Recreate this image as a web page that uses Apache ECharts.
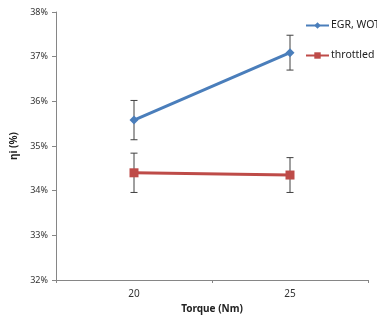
<!DOCTYPE html>
<html><head><meta charset="utf-8">
<script src="https://cdn.jsdelivr.net/npm/echarts@6/dist/echarts.min.js"></script>
<style>html,body{margin:0;padding:0;background:#fff}#c{width:377px;height:325px}</style>
</head><body><div id="c"></div>
<script>
const categories = ['20', '25'];
const egrWot = [35.58, 37.09];
const egrWotErr = [0.44, 0.39];
const throttled = [34.40, 34.35];
const throttledErr = [0.44, 0.39];
const yTicks = [32, 33, 34, 35, 36, 37, 38];

const font = 'Noto Sans';
function errData(vals, errs) { return vals.map((v, i) => [i, v - errs[i], v + errs[i]]); }
function errSeries(vals, errs) {
  return {
    type: 'custom', silent: true, z: 1,
    data: errData(vals, errs),
    renderItem: function (params, api) {
      const x = api.value(0);
      const lo = api.coord([x, api.value(1)]);
      const hi = api.coord([x, api.value(2)]);
      const w = 3.5;
      const st = { stroke: '#404040', lineWidth: 1 };
      return { type: 'group', children: [
        { type: 'line', shape: { x1: lo[0], y1: lo[1], x2: hi[0], y2: hi[1] }, style: st },
        { type: 'line', shape: { x1: lo[0] - w, y1: lo[1], x2: lo[0] + w, y2: lo[1] }, style: st },
        { type: 'line', shape: { x1: hi[0] - w, y1: hi[1], x2: hi[0] + w, y2: hi[1] }, style: st }
      ]};
    }
  };
}
const chart = echarts.init(document.getElementById('c'));
chart.setOption({
  animation: false,
  textStyle: { fontFamily: font },
  grid: { left: 56, right: 9, top: 12, bottom: 45 },
  legend: {
    orient: 'vertical', left: 305, top: 20, itemGap: 19,
    itemWidth: 23, itemHeight: 8, padding: 0,
    textStyle: { fontSize: 10.5, color: '#222', fontFamily: font, padding: [0, 0, 0, -3] },
    data: ['EGR, WOT', 'throttled']
  },
  xAxis: {
    type: 'category', data: categories, boundaryGap: true,
    name: 'Torque (Nm)', nameLocation: 'middle', nameGap: 24,
    nameTextStyle: { fontSize: 10, fontWeight: 'bold', color: '#222', fontFamily: font },
    axisLine: { lineStyle: { color: '#868686' } },
    axisTick: { show: true, length: 3, lineStyle: { color: '#868686' } },
    axisLabel: { fontSize: 10, color: '#333', margin: 9 }
  },
  yAxis: {
    type: 'value', min: 32, max: 38, interval: 1,
    name: 'ηi (%)', nameLocation: 'middle', nameGap: 28, nameRotate: 90,
    nameTextStyle: { fontSize: 10, fontWeight: 'bold', color: '#222', fontFamily: font },
    axisLine: { show: true, lineStyle: { color: '#868686' } },
    axisTick: { show: true, length: 4, lineStyle: { color: '#868686' } },
    splitLine: { show: false },
    axisLabel: { fontSize: 9, color: '#333', margin: 8, formatter: v => yTicks.includes(v) ? v + '%' : '' }
  },
  series: [
    errSeries(egrWot, egrWotErr),
    errSeries(throttled, throttledErr),
    { name: 'EGR, WOT', type: 'line', data: egrWot, z: 3,
      symbol: 'diamond', symbolSize: 9,
      itemStyle: { color: '#4a7ebb' }, lineStyle: { color: '#4a7ebb', width: 3 } },
    { name: 'throttled', type: 'line', data: throttled, z: 3,
      symbol: 'rect', symbolSize: 9,
      itemStyle: { color: '#be4b48' }, lineStyle: { color: '#be4b48', width: 3 } }
  ]
});
</script></body></html>
